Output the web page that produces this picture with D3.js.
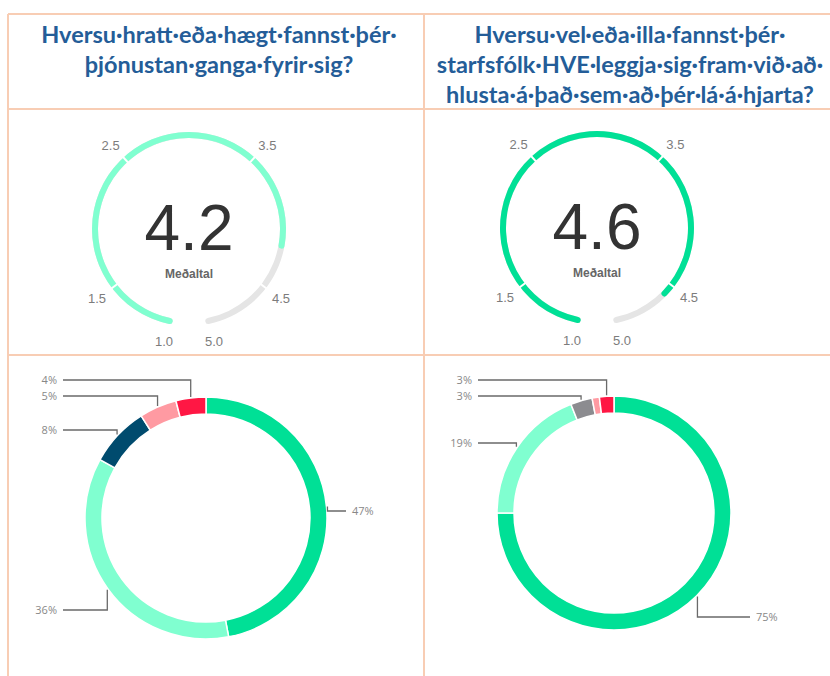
<!DOCTYPE html>
<html>
<head>
<meta charset="utf-8">
<script src="https://cdn.jsdelivr.net/npm/d3@7"></script>
<style>
  body { margin: 0; background: #fff; }
  svg { display: block; }
</style>
</head>
<body>
<svg width="830" height="676"></svg>
<script>
// ---- data ----
var titleLeft = ["Hversu·hratt·eða·hægt·fannst·þér·", "þjónustan·ganga·fyrir·sig?"];
var titleRight = ["Hversu·vel·eða·illa·fannst·þér·", "starfsfólk·HVE·leggja·sig·fram·við·að·", "hlusta·á·það·sem·að·þér·lá·á·hjarta?"];

var gaugeValues = [4.2, 4.6];
var gaugeTicks = [1.0, 1.5, 2.5, 3.5, 4.5, 5.0];
var gaugeCaption = "Meðaltal";

var donutLeftValues = [47, 36, 8, 5, 4];
var donutLeftLabels = ["47%", "36%", "8%", "5%", "4%"];
var donutRightValues = [75, 19, 3, 1, 2];
var donutRightLabels = ["75%", "19%", "3%", "", "3%"];

// ---- styles / layout ----
var svg = d3.select("svg"),
    width = +svg.attr("width"),
    height = +svg.attr("height");

var border = "#f8cdb4";
var green = "#00e096", mint = "#80ffd0", navy = "#004b6e", pink = "#ff9aa2", red = "#ff1744", grey = "#8c8c90";
var donutLeftColors = [green, mint, navy, pink, red];
var donutRightColors = [green, mint, grey, pink, red];

// table grid
var grid = svg.append("g").attr("stroke", border).attr("stroke-width", 2);
grid.append("line").attr("x1", 8).attr("x2", width).attr("y1", 14).attr("y2", 14);
grid.append("line").attr("x1", 8).attr("x2", width).attr("y1", 109).attr("y2", 109);
grid.append("line").attr("x1", 8).attr("x2", width).attr("y1", 355).attr("y2", 355);
grid.append("line").attr("x1", 8).attr("x2", 8).attr("y1", 14).attr("y2", height);
grid.append("line").attr("x1", 424).attr("x2", 424).attr("y1", 14).attr("y2", height);

// titles
function drawTitle(lines, cx, y0) {
    svg.append("g").selectAll("text")
        .data(lines)
        .enter().append("text")
        .attr("x", cx)
        .attr("y", function(d, i) { return y0 + i * 30; })
        .attr("text-anchor", "middle")
        .attr("font-family", "Lato, 'Open Sans', sans-serif")
        .attr("font-weight", "bold")
        .attr("font-size", 23.5)
        .attr("fill", "#245d98")
        .text(function(d) { return d; });
}
drawTitle(titleLeft, 219, 43);
drawTitle(titleRight, 630, 43);

// gauges
var a0 = -170 * Math.PI / 180, a1 = 170 * Math.PI / 180;
var angle = d3.scaleLinear().domain([1, 5]).range([a0, a1]);

function drawGauge(value, cx, cy, fill) {
    var r = 97, w = 6;
    var g = svg.append("g").attr("transform", "translate(" + cx + "," + cy + ")");
    var arc = d3.arc().innerRadius(r - w).outerRadius(r).cornerRadius(3);

    g.append("path")
        .attr("d", arc({startAngle: angle(1), endAngle: angle(5)}))
        .attr("fill", "#e5e5e5");
    g.append("path")
        .attr("d", arc({startAngle: angle(1), endAngle: angle(value)}))
        .attr("fill", fill);

    // white separators at the inner ticks
    g.selectAll("line.sep")
        .data(gaugeTicks.slice(1, -1))
        .enter().append("line")
        .attr("class", "sep")
        .attr("x1", function(d) { return (r - w - 2) * Math.sin(angle(d)); })
        .attr("y1", function(d) { return -(r - w - 2) * Math.cos(angle(d)); })
        .attr("x2", function(d) { return (r + 2) * Math.sin(angle(d)); })
        .attr("y2", function(d) { return -(r + 2) * Math.cos(angle(d)); })
        .attr("stroke", "#fff")
        .attr("stroke-width", 2);

    g.selectAll("text.tick")
        .data(gaugeTicks)
        .enter().append("text")
        .attr("class", "tick")
        .attr("x", function(d) {
            if (d == 1) return -25;
            if (d == 5) return 25;
            return 116 * Math.sin(angle(d));
        })
        .attr("y", function(d) { return -114 * Math.cos(angle(d)); })
        .attr("dy", "0.35em")
        .attr("text-anchor", "middle")
        .attr("font-family", "'Liberation Sans', Arial, sans-serif")
        .attr("font-size", 13)
        .attr("fill", "#7c7c7c")
        .text(function(d) { return d3.format(".1f")(d); });

    g.append("text")
        .attr("y", 21)
        .attr("text-anchor", "middle")
        .attr("font-family", "'Liberation Sans', Arial, sans-serif")
        .attr("font-size", 64)
        .attr("fill", "#333")
        .text(d3.format(".1f")(value));
    g.append("text")
        .attr("y", 49)
        .attr("text-anchor", "middle")
        .attr("font-family", "'Liberation Sans', Arial, sans-serif")
        .attr("font-weight", "bold")
        .attr("font-size", 12)
        .attr("fill", "#666")
        .text(gaugeCaption);
}
drawGauge(gaugeValues[0], 189, 229, mint);
drawGauge(gaugeValues[1], 597, 228, green);

// donuts
var pie = d3.pie().sort(null).value(function(d) { return d; });

function drawDonut(values, labels, colors, cx, cy, r, labelPos) {
    var g = svg.append("g").attr("transform", "translate(" + cx + "," + cy + ")");
    var arc = d3.arc().innerRadius(r - 17).outerRadius(r);
    var arcs = pie(values);

    g.selectAll("path")
        .data(arcs)
        .enter().append("path")
        .attr("d", arc)
        .attr("fill", function(d, i) { return colors[i]; })
        .attr("stroke", "#fff")
        .attr("stroke-width", 1.5);

    arcs.forEach(function(d, i) {
        var pos = labelPos[i];
        if (!labels[i] || !pos) return;
        var m = (d.startAngle + d.endAngle) / 2;
        var px = (r + 1) * Math.sin(m), py = -(r + 1) * Math.cos(m);
        var ly = pos.y - cy, lx = pos.x - cx;
        var right = pos.anchor == "start";
        var pts = [[px, py], [px, ly], [right ? lx - 6 : lx + 6, ly]];
        g.append("polyline")
            .attr("points", pts.map(function(p) { return p.join(","); }).join(" "))
            .attr("fill", "none")
            .attr("stroke", "#6a6a6a")
            .attr("stroke-width", 1.3);
        g.append("text")
            .attr("x", lx)
            .attr("y", ly)
            .attr("dy", "0.35em")
            .attr("text-anchor", pos.anchor)
            .attr("font-family", "'Open Sans', sans-serif")
            .attr("font-size", 11)
            .attr("fill", "#888")
            .text(labels[i]);
    });
}

drawDonut(donutLeftValues, donutLeftLabels, donutLeftColors, 206, 518, 121, [
    {x: 352, y: 511, anchor: "start"},
    {x: 57, y: 610, anchor: "end"},
    {x: 57, y: 430, anchor: "end"},
    {x: 57, y: 396, anchor: "end"},
    {x: 57, y: 380, anchor: "end"}
]);
drawDonut(donutRightValues, donutRightLabels, donutRightColors, 614, 513, 117, [
    {x: 756, y: 617, anchor: "start"},
    {x: 472, y: 443, anchor: "end"},
    {x: 472, y: 396, anchor: "end"},
    null,
    {x: 472, y: 380, anchor: "end"}
]);
</script>
</body>
</html>
